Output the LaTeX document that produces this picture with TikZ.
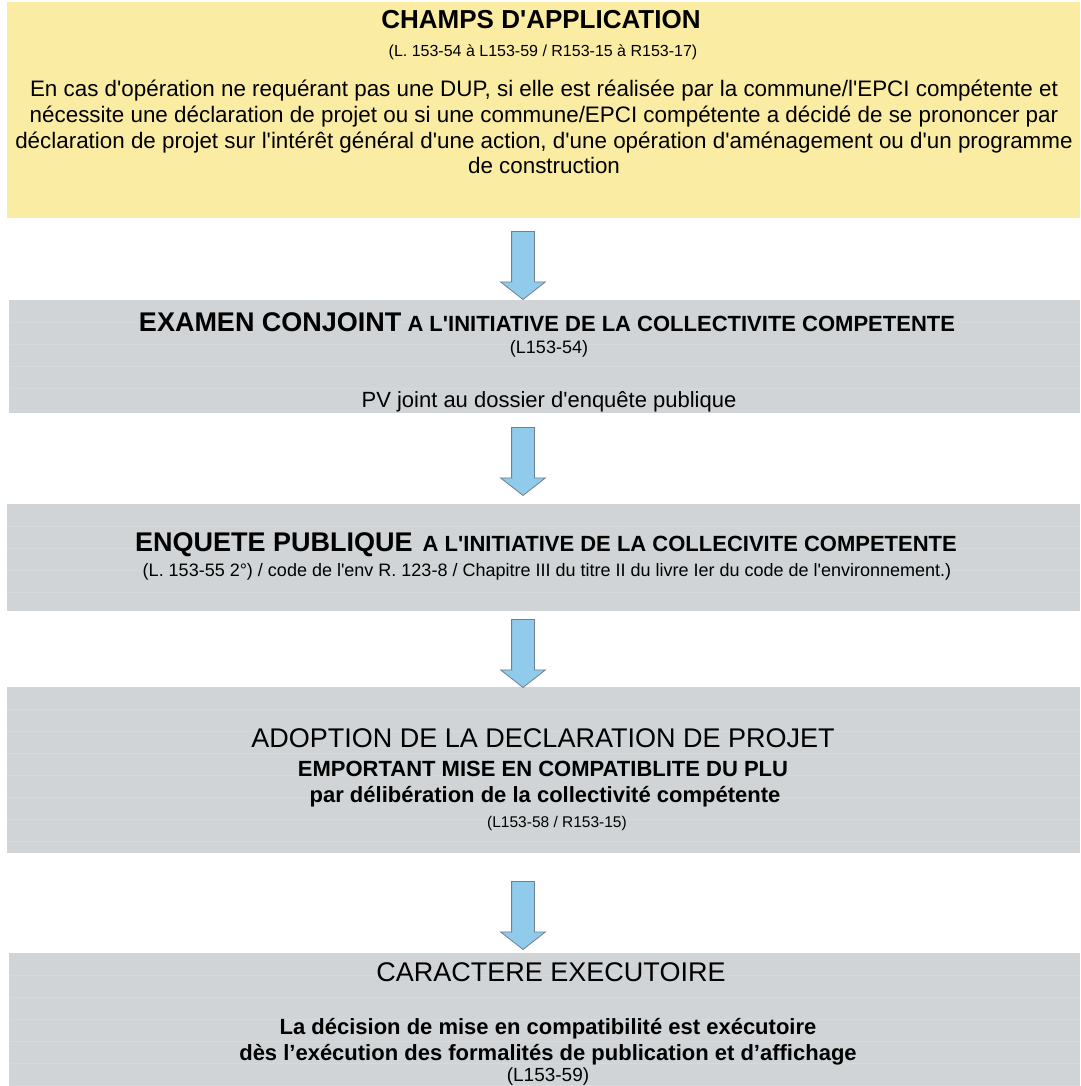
\documentclass[tikz,border=0pt]{standalone}
\usepackage{fontspec}
\setmainfont{Liberation Sans}[Ligatures=TeXOff]
\usetikzlibrary{shapes.arrows}
\definecolor{champjaune}{RGB}{250,236,163}
\definecolor{etapegris}{RGB}{208,212,214}
\definecolor{flechebleu}{RGB}{145,203,235}
\definecolor{flechebord}{RGB}{112,128,144}
\newcommand{\fs}[1]{\fontsize{#1}{#1}\selectfont}

\begin{document}
\begin{tikzpicture}[x=1pt,y=-1pt,
  jaune/.style={fill=champjaune,inner sep=0pt,anchor=north west},
  gris/.style={fill=etapegris,inner sep=0pt,anchor=north west,
               path picture={\foreach \k in {1,...,7}
                 \draw[white,opacity=.13,line width=1.2pt]
                   ([yshift=-\k*22pt]path picture bounding box.north west)--++(1100pt,0pt);}},
  fleche/.style={single arrow,fill=flechebleu,draw=flechebord,line width=.8pt,
                 inner sep=11pt,single arrow head extend=11pt,single arrow tip angle=104,
                 minimum height=68pt,shape border rotate=270},
  txt/.style={align=center,inner sep=0pt}]
  \useasboundingbox[fill=white] (0,0) rectangle (1080,1086);
  % les cinq etapes
  \node[jaune,minimum width=1073pt,minimum height=216pt](champs) at (7,2) {};
  \node[gris,minimum width=1071pt,minimum height=113pt](examen) at (9,300) {};
  \node[gris,minimum width=1073pt,minimum height=107pt](enquete) at (7,504) {};
  \node[gris,minimum width=1073pt,minimum height=166pt](adoption) at (7,687) {};
  \node[gris,minimum width=1071pt,minimum height=133pt](caractere) at (9,953) {};
  % fleches
  \node[fleche](f1) at (523,261) {};
  \node[fleche](f2) at (523,457) {};
  \node[fleche](f3) at (523,649) {};
  \node[fleche](f4) at (523,911) {};
  % textes
  \node[txt,font=\fs{26}\bfseries](champsT) at (541,20) {CHAMPS D'APPLICATION};
  \node[txt,font=\fs{16}](champsL) at (543,52) {(L. 153-54 à L153-59 / R153-15 à R153-17)};
  \node[txt,font=\fontsize{22.4}{25.8}\selectfont](champsP) at (544,127)
    {En cas d'opération ne requérant pas une DUP, si elle est réalisée par la commune/l'EPCI compétente et\\
     nécessite une déclaration de projet ou si une commune/EPCI compétente a décidé de se prononcer par\\
     déclaration de projet sur l'intérêt général d'une action, d'une opération d'aménagement ou d'un programme\\
     de construction};
  \node[txt,font=\bfseries](examenT) at (547,322)
    {{\fs{27}EXAMEN CONJOINT}\hspace{6pt}{\fs{22}A L'INITIATIVE DE LA COLLECTIVITE COMPETENTE}};
  \node[txt,font=\fs{18}](examenL) at (549,349) {(L153-54)};
  \node[txt,font=\fs{22}](examenP) at (549,402) {PV joint au dossier d'enquête publique};
  \node[txt,font=\bfseries](enqueteT) at (546,545)
    {{\fs{27}ENQUETE PUBLIQUE}\hspace{10pt}{\fs{22}A L'INITIATIVE DE LA COLLECIVITE COMPETENTE}};
  \node[txt,font=\fs{18}](enqueteL) at (547,572)
    {(L. 153-55 2°) / code de l'env R. 123-8 / Chapitre III du titre II du livre Ier du code de l'environnement.)};
  \node[txt,font=\fs{27}](adoptionT) at (543,738) {ADOPTION DE LA DECLARATION DE PROJET};
  \node[txt,font=\fs{22}\bfseries](adoptionS) at (543,769) {EMPORTANT MISE EN COMPATIBLITE DU PLU};
  \node[txt,font=\fs{22}\bfseries](adoptionP) at (545,797) {par délibération de la collectivité compétente};
  \node[txt,font=\fs{15.5}](adoptionL) at (557,823) {(L153-58 / R153-15)};
  \node[txt,font=\fs{27}](caractereT) at (551,972) {CARACTERE EXECUTOIRE};
  \node[txt,font=\fontsize{22}{26}\selectfont\bfseries](caractereP) at (548,1042)
    {La décision de mise en compatibilité est exécutoire\\
     dès l’exécution des formalités de publication et d’affichage};
  \node[txt,font=\fs{19}](caractereL) at (548,1077) {(L153-59)};
\end{tikzpicture}
\end{document}
